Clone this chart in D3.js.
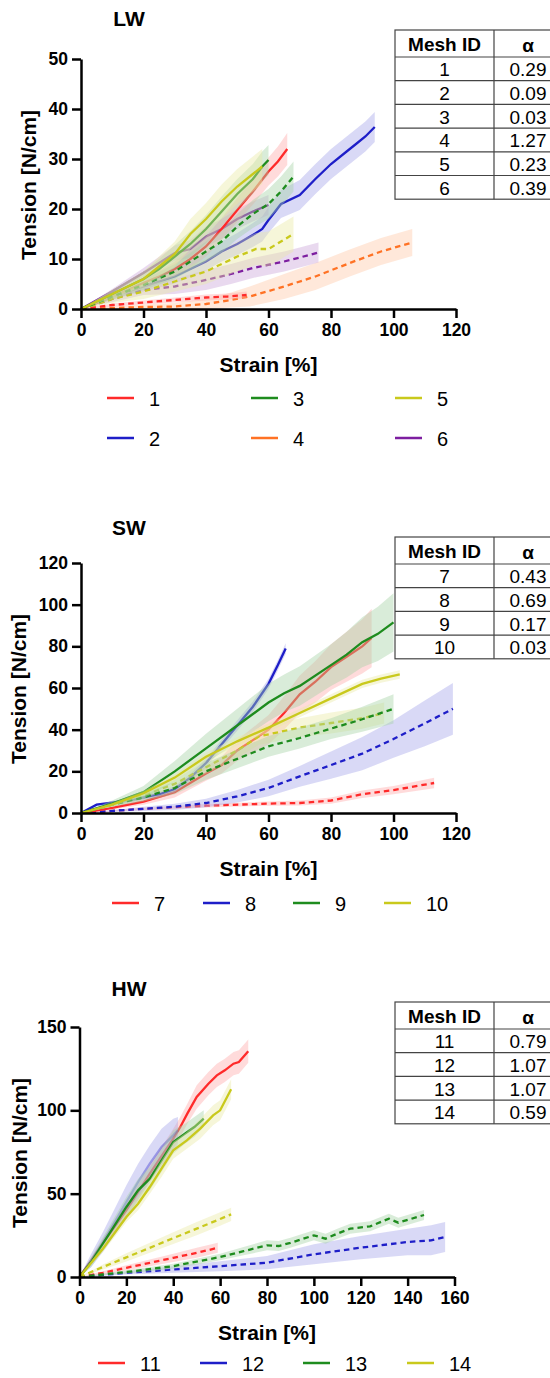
<!DOCTYPE html>
<html>
<head>
<meta charset="utf-8">
<script src="https://cdn.jsdelivr.net/npm/d3@7"></script>
<style>
  body { margin: 0; background: #fff; }
  svg { display: block; }
</style>
</head>
<body>
<svg id="chart" width="550" height="1378"></svg>
<script>
// each point: [strain %, tension N/cm, spread]
// LW
var lw1s = [[0,0,0],[5,1.2,0.3],[10,2.5,0.6],[15,3.8,0.8],[20,5.2,1],[25,6.5,1.2],[30,8,1.5],[35,10,1.8],[40,12.5,2],[45,16,2.2],[50,19.8,2.4],[55,23.5,2.6],[60,27.5,2.8],[63,29.5,3],[66,32,3.2]];
var lw1d = [[0,0,0],[5,0.4,0.2],[10,0.8,0.3],[20,1.3,0.4],[30,1.8,0.5],[40,2.3,0.6],[47,2.5,0.6],[53,2.8,0.7]];
var lw2s = [[0,0,0],[10,2.5,0.6],[20,4.5,1],[30,6.5,1.4],[40,9.5,1.8],[45,11.5,2],[50,13,2.2],[55,14.8,2.4],[58,16,2.5],[60,17.8,2.6],[64,21,2.8],[70,22.8,3],[75,26,3],[80,29,3],[85,31.5,3],[88,33,3],[91,34.5,3],[94,36.4,3]];
var lw3s = [[0,0,0],[10,3,0.8],[20,6,1.5],[25,8,2],[30,10.5,2.3],[35,13,2.6],[40,16,2.8],[45,19.5,3],[50,23,3],[55,26,3],[58,28.5,3],[60,29.8,3]];
var lw3d = [[0,0,0],[10,2.5,0.6],[20,4.8,1],[30,7.5,1.5],[40,11.5,2],[45,13.5,2.2],[50,16.5,2.5],[55,19,2.8],[60,21,3],[64,23.5,3],[68,26.5,3]];
var lw4d = [[0,0,0],[10,0.2,0.3],[20,0.4,0.5],[30,0.5,0.7],[40,1,1],[48,1.8,1.5],[54,2.5,2],[65,4.5,2.5],[75,6.5,2.7],[86,9.2,2.7],[96,11.5,2.7],[106,13.3,2.7]];
var lw5s = [[0,0,0],[10,3,0.8],[20,6,1.5],[25,8.5,2],[30,11,2.5],[35,15,3],[40,18,3.2],[45,21.5,3.4],[50,24.5,3.5],[55,27,3.5],[58,28.5,3.5]];
var lw5d = [[0,0,0],[10,2,0.8],[20,3.5,1.5],[30,5.5,2],[40,7.5,2.5],[50,10.5,3],[56,12,3.2],[60,12,3.5],[64,13.5,3.5],[68,15,3.5]];
var lw6s = [[0,0,0],[10,3.5,0.5],[20,7.2,1],[30,11.2,1.5],[35,12,1.8],[40,14.5,2],[45,16,2],[50,18,2],[55,19.5,2],[60,20.8,2]];
var lw6d = [[0,0,0],[10,2,0.6],[20,3.8,1],[30,4.5,1.5],[40,5.8,2],[48,7,2],[55,8.2,2],[65,9.5,2],[70,10.3,2],[76,11.3,2]];
// SW
var sw7s = [[0,0,0],[10,2.5,0.8],[20,5.5,1.5],[30,10,2.5],[40,19,3.5],[45,23,4],[50,30,5],[55,35,6],[60,40,7],[65,48,8],[70,57,9],[75,63,10],[80,70,11],[85,75,12],[90,80,13],[93,84,14]];
var sw7d = [[0,0,0],[20,2,0.5],[40,3.5,0.8],[60,4.5,1],[70,4.8,1.2],[80,6,1.5],[90,9,1.8],[100,11,2],[113,14.4,2.5]];
var sw8s = [[0,0,0],[5,4,0.5],[10,5,0.8],[15,6,1],[20,7.5,1],[25,9,1.2],[30,11.5,1.5],[35,17,1.8],[40,24,2],[45,33,2.2],[50,42,2.5],[55,51,2.5],[60,62,2.5],[63,71,2.5],[65.5,79,2.5]];
var sw8d = [[0,0,0],[10,1,0.5],[20,2,1],[30,3,1.5],[40,4.8,2],[50,8,3],[60,12,4],[70,17.6,5],[80,23,6.5],[90,28.5,8],[100,35.5,9],[110,43,11],[119,50,12.4]];
var sw9s = [[0,0,0],[10,4.5,1.5],[20,10,3],[30,20,5],[40,31,7],[50,42,8],[60,53,9],[65,57.5,9],[70,61,9.5],[80,71,10],[85,76,11],[90,82,12],[95,86,13],[100,91.5,14]];
var sw9d = [[0,0,0],[10,4,1],[20,7.5,2],[30,12,3],[40,20,4],[50,26,4.5],[60,32,5],[70,36,5],[80,40.5,5],[90,45,6],[100,50,7]];
var sw10s = [[0,0,0],[10,4,0.8],[20,9.5,1.2],[30,17,1.5],[40,27,1.8],[50,34.4,2],[60,41,2],[70,48,2],[80,55,2],[90,62,2],[96,64.5,2],[102,66.5,2]];
var sw10d = [[0,0,0],[10,4,1],[20,8.5,1.5],[30,14,2],[40,22,3],[50,30,3.5],[57,36.8,4],[70,41,4.5],[80,43.2,5],[90,45.5,5],[97,48,5]];
// HW
var hw11s = [[0,0,0],[10,20,3],[20,40,4],[30,62,5],[40,83,6],[43,90,6],[46,98,6],[50,108,7],[55,116,7],[58.6,121,7],[62,124,7],[65.7,128,7],[68,129,7],[72,135.5,7]];
var hw11d = [[0,0,0],[10,2.5,1],[20,5.5,1.5],[30,8.5,2],[40,11.5,2.5],[50,14.5,3],[59,17.5,3]];
var hw12s = [[0,0,0],[5,10,4],[10,21,6],[15,33,8],[20,45,10],[25,57,11],[30,68,11],[35,78,11],[40,85,10],[42,88,8]];
var hw12d = [[0,0,0],[20,2.5,1],[40,4.5,2],[60,6.5,3],[80,8.6,4],[100,13.6,6],[120,17.6,7],[140,21,8],[150,22,9],[156,24,9]];
var hw13s = [[0,0,0],[5,9,3],[10,20,4],[15,31,5],[20,42,6],[25,52,7],[30,59,7],[35,70,7],[40,81,7],[45,86,6],[49,90,6],[53,95,5]];
var hw13d = [[0,0,0],[10,1.5,0.5],[20,3,1],[40,6.5,1.5],[60,12,2],[70,15.5,2.5],[80,19,3],[85,18.6,3],[90,20.5,3],[100,25,3],[105,23,3],[110,26,3],[115.5,29,3],[124,30.4,3],[132,35,3],[136,32.6,3],[147,37.2,3]];
var hw14s = [[0,0,0],[10,17,2],[20,36,3],[25,44,4],[30,54,4],[35,65,5],[40,76,5],[45.8,82,5],[51.5,89,6],[57,97,6],[60,100,6],[64.7,112.6,6]];
var hw14d = [[0,0,0],[10,6,1.5],[20,11.8,2.5],[30,17.5,3],[40,23.3,3.5],[50,29,4],[60,34.8,4],[64.7,37.6,4]];

var lwIds = ["1","2","3","4","5","6"];
var lwAlpha = ["0.29","0.09","0.03","1.27","0.23","0.39"];
var swIds = ["7","8","9","10"];
var swAlpha = ["0.43","0.69","0.17","0.03"];
var hwIds = ["11","12","13","14"];
var hwAlpha = ["0.79","1.07","1.07","0.59"];

var lwXTicks = [0,20,40,60,80,100,120];
var lwYTicks = [0,10,20,30,40,50];
var swXTicks = [0,20,40,60,80,100,120];
var swYTicks = [0,20,40,60,80,100,120];
var hwXTicks = [0,20,40,60,80,100,120,140,160];
var hwYTicks = [0,50,100,150];

var FONT = '"Liberation Sans", Arial, Helvetica, sans-serif';
var col = {
    red: '#ff2a2a', blue: '#1e1ec8', green: '#1e8c1e',
    orange: '#ff7224', yellow: '#c9c91c', purple: '#7d1ea0'
};

var svg = d3.select('#chart');
svg.append('rect').attr('width', 550).attr('height', 1378).attr('fill', '#fff');

function drawPanel(p) {
    var x = d3.scaleLinear().domain(p.xDomain).range(p.xRange);
    var y = d3.scaleLinear().domain(p.yDomain).range(p.yRange);
    var g = svg.append('g');

    var area = d3.area()
        .x(function(d){ return x(d[0]); })
        .y0(function(d){ return y(Math.max(0, d[1] - d[2])); })
        .y1(function(d){ return y(d[1] + d[2]); });
    var line = d3.line()
        .x(function(d){ return x(d[0]); })
        .y(function(d){ return y(d[1]); });

    // band drawn over the earlier lines, like the original plot
    p.series.forEach(function(s) {
        g.append('path').datum(s.data)
            .attr('d', area)
            .attr('fill', d3.interpolateRgb(col[s.c], '#fff')(0.6))
            .attr('fill-opacity', 0.42);
        g.append('path').datum(s.data)
            .attr('d', line)
            .attr('fill', 'none')
            .attr('stroke', col[s.c])
            .attr('stroke-opacity', s.faint ? 0.35 : 1)
            .attr('stroke-width', 2.3)
            .attr('stroke-dasharray', s.dash ? '5.5,4' : null);
    });

    var xAxis = d3.axisBottom(x).tickValues(p.xTicks).tickSize(9).tickSizeOuter(0).tickPadding(6);
    var yAxis = d3.axisLeft(y).tickValues(p.yTicks).tickSize(9).tickSizeOuter(0).tickPadding(4);

    var gx = g.append('g')
        .attr('transform', 'translate(0,' + p.yRange[0] + ')')
        .call(xAxis);
    var gy = g.append('g')
        .attr('transform', 'translate(' + p.xRange[0] + ',0)')
        .call(yAxis);
    [gx, gy].forEach(function(a) {
        a.selectAll('path, line').attr('stroke', '#000').attr('stroke-width', 2.5);
        a.selectAll('text')
            .attr('font-family', FONT)
            .attr('font-size', 17.5)
            .attr('font-weight', 'bold')
            .attr('fill', '#000');
    });

    svg.append('text')
        .attr('x', 129).attr('y', p.titleY)
        .attr('text-anchor', 'middle').attr('dominant-baseline', 'central')
        .attr('font-family', FONT).attr('font-size', 21).attr('font-weight', 'bold')
        .text(p.title);

    svg.append('text')
        .attr('x', (p.xRange[0] + p.xRange[1]) / 2).attr('y', p.yRange[0] + 55)
        .attr('text-anchor', 'middle').attr('dominant-baseline', 'central')
        .attr('font-family', FONT).attr('font-size', 21).attr('font-weight', 'bold')
        .text('Strain [%]');

    var cy = (p.yRange[0] + p.yRange[1]) / 2 + 1;
    svg.append('text')
        .attr('transform', 'translate(' + p.yLabelX + ',' + cy + ') rotate(-90)')
        .attr('text-anchor', 'middle').attr('dominant-baseline', 'central')
        .attr('font-family', FONT).attr('font-size', 21).attr('font-weight', 'bold')
        .text('Tension [N/cm]');

    // legend
    p.legend.forEach(function(l) {
        svg.append('line')
            .attr('x1', l.x).attr('x2', l.x + 27)
            .attr('y1', l.y).attr('y2', l.y)
            .attr('stroke', col[l.c]).attr('stroke-width', 2.5);
        svg.append('text')
            .attr('x', l.x + 42).attr('y', l.y + 1)
            .attr('dominant-baseline', 'central')
            .attr('font-family', FONT).attr('font-size', 20)
            .text(l.label);
    });

    drawTable(p.tableTop, p.ids, p.alpha);
}

function drawTable(top, ids, alpha) {
    var left = 395, mid = 494, right = 562;
    var headH = 27, rowH = 23.7;
    var bottom = top + headH + rowH * ids.length;
    var t = svg.append('g');
    t.append('rect')
        .attr('x', left).attr('y', top)
        .attr('width', right - left).attr('height', bottom - top)
        .attr('fill', '#fff').attr('stroke', '#444').attr('stroke-width', 1.2);
    t.append('line').attr('x1', mid).attr('x2', mid).attr('y1', top).attr('y2', bottom)
        .attr('stroke', '#444').attr('stroke-width', 1.2);
    for (var i = 0; i < ids.length; i++) {
        var yy = top + headH + rowH * i;
        t.append('line').attr('x1', left).attr('x2', right).attr('y1', yy).attr('y2', yy)
            .attr('stroke', '#444').attr('stroke-width', 1.2);
    }
    var c1 = (left + mid) / 2, c2 = 528;
    t.append('text').attr('x', c1).attr('y', top + headH / 2 + 1)
        .attr('text-anchor', 'middle').attr('dominant-baseline', 'central')
        .attr('font-family', FONT).attr('font-size', 19).attr('font-weight', 'bold')
        .text('Mesh ID');
    t.append('text').attr('x', c2).attr('y', top + headH / 2 + 2)
        .attr('text-anchor', 'middle').attr('dominant-baseline', 'central')
        .attr('font-family', FONT).attr('font-size', 19).attr('font-weight', 'bold')
        .text('α');
    ids.forEach(function(id, i) {
        var yy = top + headH + rowH * i + rowH / 2 + 1;
        t.append('text').attr('x', c1).attr('y', yy)
            .attr('text-anchor', 'middle').attr('dominant-baseline', 'central')
            .attr('font-family', FONT).attr('font-size', 19).text(id);
        t.append('text').attr('x', c2).attr('y', yy)
            .attr('text-anchor', 'middle').attr('dominant-baseline', 'central')
            .attr('font-family', FONT).attr('font-size', 19).text(alpha[i]);
    });
}

drawPanel({
    title: 'LW', titleY: 18,
    xDomain: [0, 120], yDomain: [0, 50],
    xRange: [81, 456], yRange: [309, 59],
    xTicks: lwXTicks, yTicks: lwYTicks, yLabelX: 28,
    series: [
        {data: lw4d, c: 'orange', dash: true},
        {data: lw1d, c: 'red', dash: true},
        {data: lw2s, c: 'blue', dash: false},
        {data: lw6d, c: 'purple', dash: true},
        {data: lw6s, c: 'purple', dash: false},
        {data: lw1s, c: 'red', dash: false},
        {data: lw5d, c: 'yellow', dash: true},
        {data: lw3d, c: 'green', dash: true},
        {data: lw3s, c: 'green', dash: false},
        {data: lw5s, c: 'yellow', dash: false}
    ],
    legend: [
        {x: 107, y: 398, c: 'red', label: '1'},
        {x: 107, y: 438, c: 'blue', label: '2'},
        {x: 251, y: 398, c: 'green', label: '3'},
        {x: 251, y: 438, c: 'orange', label: '4'},
        {x: 395, y: 398, c: 'yellow', label: '5'},
        {x: 395, y: 438, c: 'purple', label: '6'}
    ],
    tableTop: 30, ids: lwIds, alpha: lwAlpha
});

drawPanel({
    title: 'SW', titleY: 527,
    xDomain: [0, 120], yDomain: [0, 120],
    xRange: [81, 456], yRange: [813, 563],
    xTicks: swXTicks, yTicks: swYTicks, yLabelX: 18,
    series: [
        {data: sw7d, c: 'red', dash: true},
        {data: sw8d, c: 'blue', dash: true},
        {data: sw7s, c: 'red', dash: false},
        {data: sw8s, c: 'blue', dash: false},
        {data: sw10d, c: 'yellow', dash: true},
        {data: sw9d, c: 'green', dash: true},
        {data: sw9s, c: 'green', dash: false},
        {data: sw10s, c: 'yellow', dash: false}
    ],
    legend: [
        {x: 112, y: 903, c: 'red', label: '7'},
        {x: 203, y: 903, c: 'blue', label: '8'},
        {x: 293, y: 903, c: 'green', label: '9'},
        {x: 384, y: 903, c: 'yellow', label: '10'}
    ],
    tableTop: 537, ids: swIds, alpha: swAlpha
});

drawPanel({
    title: 'HW', titleY: 988,
    xDomain: [0, 160], yDomain: [0, 150],
    xRange: [79.5, 454.5], yRange: [1277, 1027],
    xTicks: hwXTicks, yTicks: hwYTicks, yLabelX: 19,
    series: [
        {data: hw11d, c: 'red', dash: true},
        {data: hw12d, c: 'blue', dash: true},
        {data: hw13d, c: 'green', dash: true},
        {data: hw14d, c: 'yellow', dash: true},
        {data: hw11s, c: 'red', dash: false},
        {data: hw12s, c: 'blue', dash: false, faint: true},
        {data: hw13s, c: 'green', dash: false},
        {data: hw14s, c: 'yellow', dash: false}
    ],
    legend: [
        {x: 98, y: 1363, c: 'red', label: '11'},
        {x: 200, y: 1363, c: 'blue', label: '12'},
        {x: 303, y: 1363, c: 'green', label: '13'},
        {x: 407, y: 1363, c: 'yellow', label: '14'}
    ],
    tableTop: 1002, ids: hwIds, alpha: hwAlpha
});
</script>
</body>
</html>
